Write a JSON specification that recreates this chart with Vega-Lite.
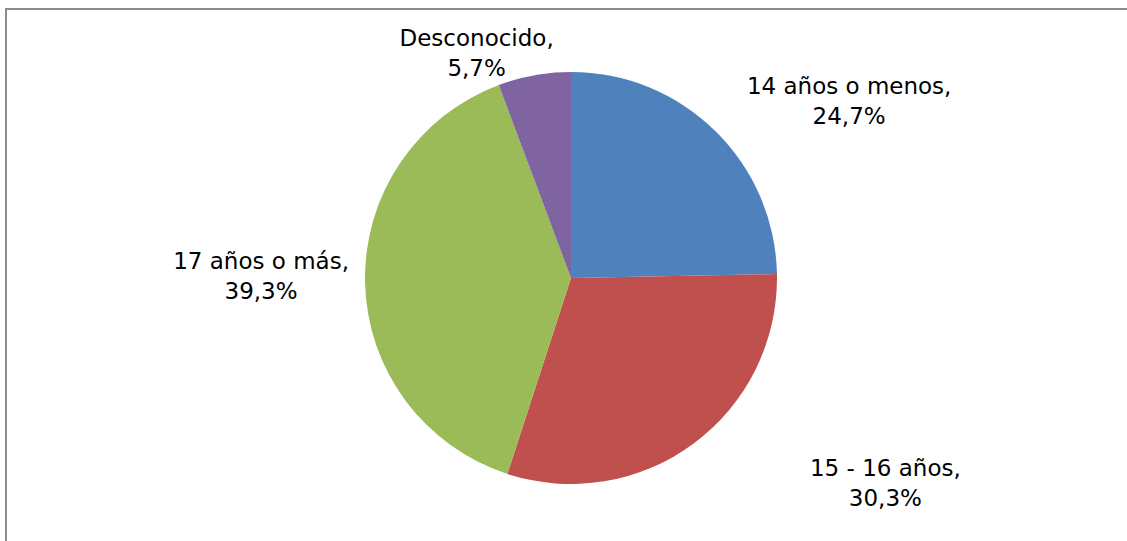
{
  "$schema": "https://vega.github.io/schema/vega-lite/v6.json",
  "width": 1130,
  "height": 538,
  "autosize": {"type": "none"},
  "padding": {"left": 6, "top": 9, "right": 0, "bottom": 0},
  "background": "white",
  "view": {"stroke": "#8c8c8c", "strokeWidth": 2},
  "title": {"text": "2003.", "anchor": "start", "frame": "group", "font": "DejaVu Sans", "fontSize": 23, "fontWeight": "normal", "color": "#000000", "baseline": "top", "offset": -40, "dx": -4},
  "config": {"view": {"stroke": "#8c8c8c", "strokeWidth": 2}, "style": {"cell": {"stroke": "#8c8c8c", "strokeWidth": 2}}},
  "data": {"values": [
    {"cat": "14 años o menos", "ord": 1, "value": 24.7, "label": "14 años o menos,\n24,7%"},
    {"cat": "15 - 16 años", "ord": 2, "value": 30.3, "label": "15 - 16 años,\n30,3%"},
    {"cat": "17 años o más", "ord": 3, "value": 39.3, "label": "17 años o más,\n39,3%"},
    {"cat": "Desconocido", "ord": 4, "value": 5.7, "label": "Desconocido,\n5,7%"}
  ]},
  "encoding": {
    "theta": {"field": "value", "type": "quantitative", "stack": true},
    "order": {"field": "ord", "type": "quantitative"}
  },
  "layer": [
    {
      "mark": {"type": "arc", "radius": 206, "stroke": null},
      "encoding": {
        "color": {"field": "cat", "type": "nominal", "legend": null,
          "scale": {"domain": ["14 años o menos", "15 - 16 años", "17 años o más", "Desconocido"],
                    "range": ["#4F81BD", "#C0504D", "#9BBB59", "#8064A2"]}}
      }
    },
    {
      "mark": {"type": "text", "radius": 320, "dx": 54, "dy": 37, "align": "center", "baseline": "middle", "lineBreak": "\n", "lineHeight": 30, "font": "DejaVu Sans", "fontSize": 23, "color": "#000000"},
      "encoding": {
        "detail": {"field": "cat", "type": "nominal"},
        "text": {"condition": {"test": "datum.cat === '14 años o menos'", "field": "label"}, "value": ""}
      }
    },
    {
      "mark": {"type": "text", "radius": 350, "dx": 106, "dy": -90, "align": "center", "baseline": "middle", "lineBreak": "\n", "lineHeight": 30, "font": "DejaVu Sans", "fontSize": 23, "color": "#000000"},
      "encoding": {
        "detail": {"field": "cat", "type": "nominal"},
        "text": {"condition": {"test": "datum.cat === '15 - 16 años'", "field": "label"}, "value": ""}
      }
    },
    {
      "mark": {"type": "text", "radius": 310, "dx": 0, "dy": -23, "align": "center", "baseline": "middle", "lineBreak": "\n", "lineHeight": 30, "font": "DejaVu Sans", "fontSize": 23, "color": "#000000"},
      "encoding": {
        "detail": {"field": "cat", "type": "nominal"},
        "text": {"condition": {"test": "datum.cat === '17 años o más'", "field": "label"}, "value": ""}
      }
    },
    {
      "mark": {"type": "text", "radius": 238, "dx": -52, "dy": -5, "align": "center", "baseline": "middle", "lineBreak": "\n", "lineHeight": 30, "font": "DejaVu Sans", "fontSize": 23, "color": "#000000"},
      "encoding": {
        "detail": {"field": "cat", "type": "nominal"},
        "text": {"condition": {"test": "datum.cat === 'Desconocido'", "field": "label"}, "value": ""}
      }
    }
  ]
}
